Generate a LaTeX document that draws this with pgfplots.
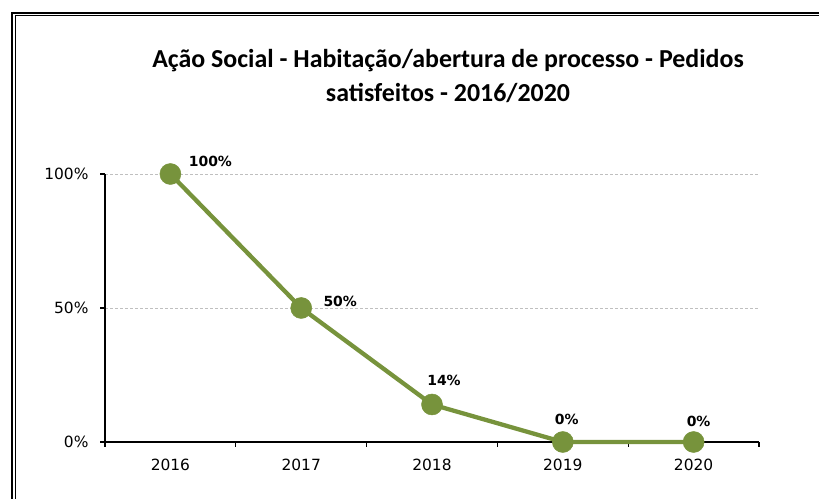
\documentclass[border=0pt]{standalone}
\usepackage{pgfplots}
\pgfplotsset{compat=1.18}
\usepackage{fontspec}
\setmainfont{Carlito}
\newfontfamily\djv{DejaVu Sans}
\definecolor{olive}{HTML}{77933C}
\definecolor{gridgray}{HTML}{BFBFBF}
\begin{document}
\begin{tikzpicture}[x=1bp,y=1bp]
\path[use as bounding box] (0,0) rectangle (819,499);
% frame (open to the right and bottom, as in the cropped reference)
\begin{scope}
\clip (0,0) rectangle (819,499);
\draw[line width=2.5bp, line cap=rect] (12,-10) -- (12,486) -- (830,486);
\draw[line width=1bp] (15.5,-10) -- (15.5,483) -- (830,483);
\end{scope}
\node[align=center,font=\bfseries\fontsize{26}{35}\selectfont] at (448,423) {Ação Social - Habitação/abertura de processo - Pedidos\\satisfeitos - 2016/2020};
\begin{axis}[
  at={(105bp,57bp)}, anchor=south west,
  scale only axis, width=654bp, height=268bp,
  xmin=-0.5, xmax=4.5, ymin=0, ymax=100,
  axis x line*=bottom, axis y line*=left,
  axis line style={black, line width=1.2bp},
  tick align=outside,
  major tick length=5bp,
  tick style={black, line width=1.2bp},
  xtick={-0.5,0.5,1.5,2.5,3.5,4.5}, xticklabels={},
  extra x ticks={0,1,2,3,4},
  extra x tick labels={2016,2017,2018,2019,2020},
  extra x tick style={major tick length=0pt, xmajorgrids=false},
  ytick={0,50,100}, yticklabels={0\%,50\%,100\%},
  ymajorgrids,
  grid style={gridgray, dash pattern=on 3bp off 2bp, line width=0.9bp},
  tick label style={font=\djv\fontsize{15.5}{17}\selectfont},
  xticklabel style={yshift=-14bp},
  yticklabel style={xshift=-8bp},
  clip=false,
]
\addplot[olive, line width=4.3bp, mark=*, mark size=10.5bp,
  mark options={fill=olive, draw=olive, line width=0.5bp},
  visualization depends on={\thisrow{dx}\as\dx},
  visualization depends on={\thisrow{dy}\as\dy},
  nodes near coords={\pgfplotspointmeta\%},
  point meta=explicit symbolic,
  nodes near coords style={anchor=center, black, font=\djv\bfseries\fontsize{14}{15}\selectfont, xshift=\dx bp, yshift=\dy bp},
] table[x=x, y=y, meta=lab] {
x y lab dx dy
0 100 100 40 13
1 50 50 39 7
2 14 14 12 24
3 0 0 4 23
4 0 0 5 21
};
\end{axis}
\end{tikzpicture}
\end{document}
